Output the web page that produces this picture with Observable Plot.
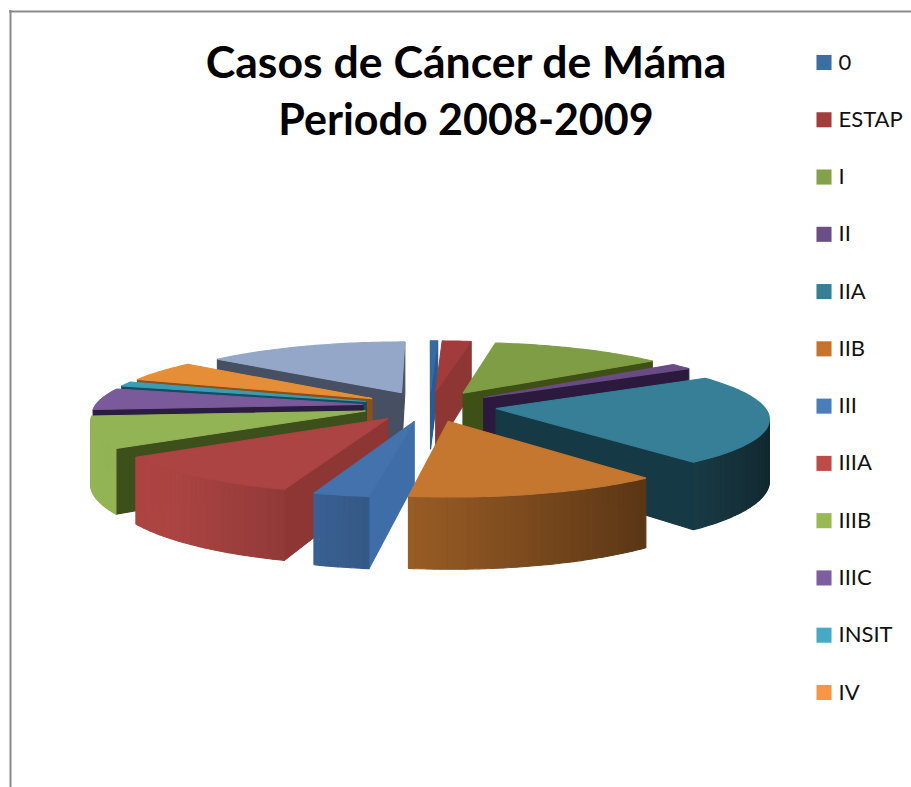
<!DOCTYPE html>
<html><head><meta charset="utf-8">
<script src="https://cdn.jsdelivr.net/npm/d3@7"></script>
<script src="https://cdn.jsdelivr.net/npm/@observablehq/plot@0.6"></script>
<style>html,body{margin:0;padding:0;background:#fff}svg{display:block}</style>
</head><body><div id="chart"></div>
<script>
const titleLines = ["Casos de Cáncer de Máma", "Periodo 2008-2009"];
const titleSizes = [44.6, 43];
const legendLabels = ["0","ESTAP","I","II","IIA","IIB","III","IIIA","IIIB","IIIC","INSIT","IV"];
const categories = ["0","ESTAP","I","II","IIA","IIB","III","IIIA","IIIB","IIIC","INSIT","IV","(sin dato)"];
const cases = [1,4,24,3,45.6,25.6,5.6,21.2,16,11,2.4,10.6,28];
const legendColors = ["#3e6da3","#a03e3c","#84a04a","#6b4e85","#377e96","#c4742c","#4a7ebb","#be4b48","#98b954","#7d5fa0","#46aac5","#f79646","#95a7c8"];
const topColors = ["#376a9e","#a23b3b","#7f9d44","#6a4c85","#367f97","#c5772f","#4472ad","#ab4442","#93b455","#7b5a9c","#3b9cb5","#e68e37","#95a7c8"];
const cutColors = ["#2a5a8e","#8e3634","#3f5016","#2b1a3d","#153945","#5c3510","#3f6da8","#8e3634","#3d501c","#2c1c41","#104f60","#8a5018","#474f62"];

// view geometry of the exploded 3D pie
const cx = 429, cy = 405.5, rx = 268, ry = 61, persp = 0.136, explode = 0.25, depth = 60;
const project = (X, Y, z) => { const p = 1 / (1 - persp * Y); return [cx + rx * X * p, cy + ry * Y * p + z * depth * p]; };
const area = q => d3.sum(q, (d, i) => { const e = q[(i + 1) % q.length]; return d[0] * e[1] - e[0] * d[1]; });
const tone = (hex, f) => { const c = d3.rgb(hex); return d3.rgb(c.r * f, c.g * f, c.b * f).formatHex(); };
const wallShade = t => Math.min(1, 0.72 - 0.42 * Math.sin(t));

const arcs = d3.pie().sort(null).startAngle(0).endAngle(2 * Math.PI)(cases);
const slices = arcs.map((s, i) => {
  const m = (s.startAngle + s.endAngle) / 2;
  return {i, s, ox: explode * Math.sin(m), oy: -explode * Math.cos(m)};
}).sort((p, q) => p.oy - q.oy);

const rows = [];
let faceId = 0;
const addFace = (pts, fill) => { const id = faceId++; for (const [x, y] of pts) rows.push({id, x, y, fill}); };
for (const {i, s, ox, oy} of slices) {
  const steps = Math.max(2, Math.ceil((s.endAngle - s.startAngle) / 0.02));
  const rim = d3.range(steps + 1).map(j => {
    const t = s.startAngle + (s.endAngle - s.startAngle) * j / steps;
    return [ox + Math.sin(t), oy - Math.cos(t), t];
  });
  const apex = [ox, oy];
  const faces = [];
  const edge = (a, b, fill) => {
    const q = [project(a[0], a[1], 0), project(b[0], b[1], 0), project(b[0], b[1], 1), project(a[0], a[1], 1)];
    if (area(q) < 0) faces.push({q, fill, d: (a[1] + b[1]) / 2});
  };
  edge(apex, rim[0], cutColors[i]);
  for (let j = 0; j < steps; j++) {
    const t = (rim[j][2] + rim[j + 1][2]) / 2;
    edge(rim[j], rim[j + 1], tone(topColors[i], wallShade(t)));
  }
  edge(rim[steps], apex, cutColors[i]);
  faces.sort((p, q) => p.d - q.d).forEach(f => addFace(f.q, f.fill));
  addFace([project(apex[0], apex[1], 0), ...rim.map(r => project(r[0], r[1], 0))], topColors[i]);
}

const legendRows = legendLabels.map((label, i) => ({label, color: legendColors[i], y: 62 + i * 57.27}));
const font = "Lato, Carlito, sans-serif";

const plot = Plot.plot({
  width: 911, height: 787, margin: 0,
  x: {domain: [0, 911], range: [0, 911], axis: null},
  y: {domain: [0, 787], range: [0, 787], axis: null},
  color: {type: "identity"},
  marks: [
    Plot.ruleY([11], {x1: 9, x2: 911, stroke: "#8a8a8a", strokeWidth: 2}),
    Plot.ruleX([10], {y1: 10, y2: 787, stroke: "#8a8a8a", strokeWidth: 2}),
    Plot.line(rows, {x: "x", y: "y", z: "id", fill: "fill", stroke: "fill", strokeWidth: 1.1, strokeLinejoin: "bevel", curve: "linear-closed"}),
    Plot.dot(legendRows, {x: () => 823.5, y: "y", symbol: "square", r: 8.5, fill: "color"}),
    Plot.text(legendRows, {x: () => 838, y: "y", text: "label", textAnchor: "start", fontSize: 22, fontFamily: font, fill: "#111"}),
    Plot.text(titleLines, {x: () => 465.5, y: (d, i) => 63 + i * 58, text: d => d, textAnchor: "middle", fontSize: (d, i) => titleSizes[i], fontWeight: 700, fontFamily: font, fill: "#000"})
  ]
});
document.getElementById("chart").append(plot);
</script>
</body></html>
